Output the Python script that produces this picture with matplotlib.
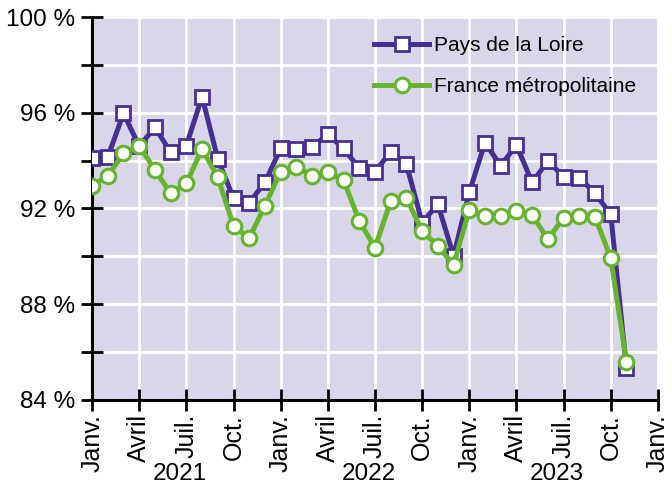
import matplotlib
matplotlib.use('Agg')
import matplotlib.pyplot as plt
from matplotlib.ticker import MultipleLocator, FuncFormatter
import matplotlib.transforms as mtransforms

# Monthly values, janvier 2021 -> novembre 2023
pays_loire = [94.10, 94.15, 95.98, 94.60, 95.39, 94.35, 94.63, 96.67, 94.06, 92.43, 92.24, 93.09,
              94.51, 94.47, 94.58, 95.10, 94.51, 93.68, 93.54, 94.37, 93.85, 91.41, 92.18, 90.02,
              92.68, 94.75, 93.79, 94.65, 93.09, 93.98, 93.33, 93.29, 92.63, 91.76, 85.33]
france = [92.95, 93.37, 94.30, 94.63, 93.61, 92.63, 93.05, 94.49, 93.30, 91.27, 90.76, 92.12,
          93.54, 93.75, 93.36, 93.51, 93.19, 91.48, 90.36, 92.31, 92.43, 91.07, 90.43, 89.64,
          91.94, 91.69, 91.69, 91.91, 91.73, 90.71, 91.62, 91.69, 91.66, 89.92, 85.60]
month_labels = ['Janv.', 'Avril', 'Juil.', 'Oct.'] * 3 + ['Janv.']
years = ['2021', '2022', '2023']

plt.rcParams['font.family'] = ['Liberation Sans', 'DejaVu Sans']

fig = plt.figure(figsize=(6.72, 4.86), dpi=100)
ax = fig.add_axes([0.137, 0.177, 0.842, 0.788])
ax.set_facecolor('#d9d6e9')

months = list(range(len(pays_loire)))

ax.plot(months, pays_loire, color='#472f92', lw=3.6, marker='s', ms=10,
        mfc='white', mec='#472f92', mew=2, label='Pays de la Loire', zorder=3)
ax.plot(months, france, color='#66b32e', lw=3.6, marker='o', ms=10.5,
        mfc='white', mec='#66b32e', mew=2.2, label='France métropolitaine', zorder=4)

ax.set_xlim(0, 36)
ax.set_ylim(84, 100)

ax.set_xticks(range(0, 37, 3))
ax.set_xticklabels(month_labels, rotation=90, fontsize=18)
ax.yaxis.set_major_locator(MultipleLocator(4))
ax.yaxis.set_minor_locator(MultipleLocator(2))
ax.yaxis.set_major_formatter(FuncFormatter(lambda v, p: '%d %%' % v))
ax.tick_params(axis='y', which='major', labelsize=17.5, direction='inout', length=16, width=2, pad=4)
ax.tick_params(axis='y', which='minor', direction='inout', length=16, width=2)
ax.tick_params(axis='x', which='major', direction='inout', length=16, width=2, pad=2)

ax.grid(True, which='both', color='white', lw=2)
ax.set_axisbelow(True)

for s in ['top', 'right']:
    ax.spines[s].set_visible(False)
for s in ['left', 'bottom']:
    ax.spines[s].set_linewidth(2.2)

# Year labels under the month labels
trans = mtransforms.blended_transform_factory(ax.transData, fig.transFigure)
for i, yr in enumerate(years):
    ax.text(5.6 + 12 * i, 0.002, yr, transform=trans, ha='center', va='bottom', fontsize=17.5)

fig.legend(loc='upper left', frameon=False, fontsize=15, handlelength=2.65,
           handletextpad=0.25, labelspacing=1.05, borderaxespad=0, borderpad=0,
           bbox_to_anchor=(374 / 672, 1 - 36 / 486))

fig.savefig('out.png', dpi=100)
